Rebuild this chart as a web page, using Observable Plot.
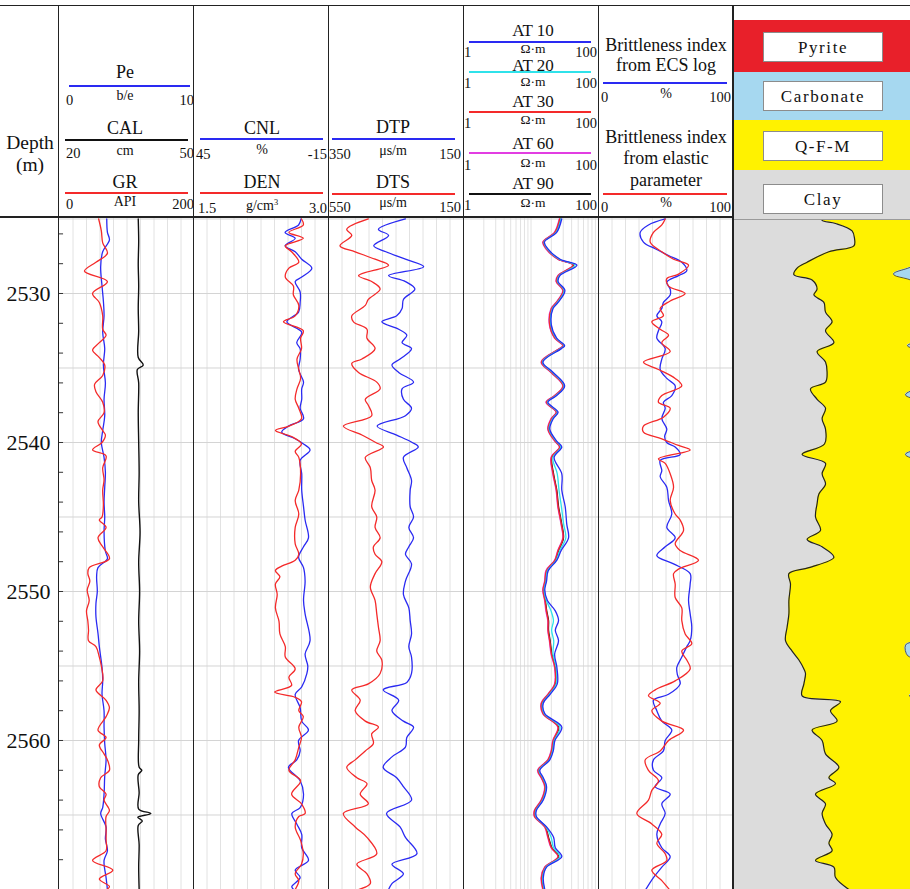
<!DOCTYPE html>
<html><head><meta charset="utf-8">
<script src="https://cdn.jsdelivr.net/npm/d3@7"></script>
<script src="https://cdn.jsdelivr.net/npm/@observablehq/plot@0.6"></script>
<style>
html,body{margin:0;padding:0;background:#fff;overflow:hidden;}
#root{position:relative;width:910px;height:889px;overflow:hidden;font-family:"Liberation Serif","Times New Roman",serif;color:#111;background:#fff;}
.t{position:absolute;white-space:nowrap;line-height:1;}
.r{position:absolute;}
sup{font-size:0.6em;vertical-align:0.55em;line-height:0;}
</style></head><body><div id="root"></div><script>
// ---------------- DATA (depth m, value) ----------------
const DEPTH_LABELS = [2530, 2540, 2550, 2560];
const GR_LOG = [[2525.0,58],[2525.8,62],[2526.6,64],[2527.3,71],[2527.9,54],[2528.5,37],[2529.2,71],[2530.0,49],[2530.6,59],[2531.5,64],[2532.4,64],[2532.8,69],[2533.3,59],[2533.8,49],[2534.3,59],[2534.8,67],[2535.5,64],[2536.1,52],[2536.6,54],[2537.3,64],[2538.0,66],[2538.6,57],[2539.2,64],[2539.5,68],[2540.0,63],[2540.5,49],[2540.9,69],[2541.7,64],[2542.5,66],[2543.2,64],[2544.2,65],[2545.0,63],[2545.2,59],[2545.7,69],[2546.4,57],[2547.0,64],[2547.8,74],[2548.4,44],[2548.8,42],[2549.3,45],[2549.9,41],[2550.6,44],[2551.3,40],[2552.0,42],[2552.6,43],[2553.3,43],[2553.7,54],[2554.4,59],[2555.0,62],[2556.0,64],[2556.6,54],[2557.3,69],[2557.8,74],[2558.4,69],[2559.3,57],[2559.8,69],[2560.3,59],[2560.9,66],[2561.3,71],[2562.0,74],[2562.5,61],[2563.1,59],[2563.6,69],[2564.0,66],[2564.7,74],[2565.1,69],[2566.0,69],[2566.7,69],[2567.4,69],[2568.05,49],[2568.7,79],[2569.3,59],[2569.8,74],[2570.0,70]];
const PE_LOG = [[2525,3.5],[2525.9,3.55],[2526.4,3.7],[2527.2,3.2],[2528.2,3.05],[2529.5,3.15],[2530.5,3.25],[2531.5,3.3],[2532.6,3.2],[2533.7,3.35],[2534.8,3.25],[2536.0,3.4],[2537.1,3.3],[2538.2,3.35],[2539.2,3.2],[2540.0,3.1],[2541.0,3.3],[2542.0,3.4],[2543.0,3.35],[2544.0,3.3],[2545.0,3.35],[2546.0,3.3],[2547.3,3.4],[2547.8,3.55],[2548.4,2.85],[2549.0,2.75],[2550.0,2.8],[2550.8,2.7],[2551.7,2.7],[2552.8,2.85],[2553.7,2.95],[2555.1,3.15],[2556.0,3.2],[2556.9,3.15],[2558.0,3.3],[2559.1,3.3],[2560.2,3.35],[2561.3,3.45],[2562.4,3.35],[2563.6,3.3],[2564.5,3.2],[2564.9,3.05],[2565.8,3.45],[2566.6,3.4],[2567.4,3.55],[2568.05,3.3],[2569.2,3.45],[2570,3.55]];
const CAL_LOG = [[2525,37.5],[2526.5,37.6],[2528,37.5],[2529.5,37.6],[2531,37.5],[2532.5,37.6],[2534.3,37.5],[2534.8,38.6],[2535.1,37.3],[2536,37.6],[2538,37.5],[2540,37.6],[2542,37.7],[2544,37.6],[2546,37.9],[2548,37.6],[2550,37.8],[2552,37.6],[2554,37.8],[2556,37.6],[2558,37.7],[2560,37.6],[2561.8,37.7],[2562.0,38.3],[2562.3,37.5],[2563.5,37.7],[2564.6,37.6],[2564.9,40.3],[2565.15,37.4],[2565.4,38.4],[2565.7,37.5],[2567,37.7],[2568.5,37.6],[2570,37.7]];
const CNL_LOG = [[2525.0,-2.8],[2525.4,-1.7],[2525.9,4.3],[2526.3,-0.2],[2526.8,4.3],[2527.2,-0.2],[2527.7,-3.1],[2528.3,-7.6],[2528.9,-3.1],[2529.2,-0.2],[2529.9,-2.4],[2530.6,-2.4],[2531.25,-1.7],[2531.9,3.5],[2532.6,-3.1],[2533.3,-0.9],[2533.7,-2.4],[2534.4,-2.4],[2535.1,-1.7],[2535.95,-3.9],[2536.4,-3.1],[2537.1,-3.1],[2537.7,-2.4],[2538.4,-3.9],[2538.9,2.8],[2539.3,5.8],[2539.75,-0.2],[2540.1,-3.9],[2540.5,-6.8],[2541.2,-2.4],[2542.1,-3.1],[2543.2,-3.1],[2544.3,-3.9],[2545.2,-4.6],[2546.4,-6.1],[2547.0,-3.9],[2547.7,-1.7],[2548.4,-3.9],[2549.3,-4.6],[2550.6,-3.9],[2551.5,-4.6],[2553.3,-6.8],[2554.2,-4.6],[2555.0,-5.8],[2555.5,-5.4],[2556.4,-3.1],[2556.9,-0.2],[2557.8,-2.4],[2558.7,-3.1],[2559.3,-6.1],[2560.0,-1.7],[2560.7,-2.4],[2561.3,-0.9],[2561.8,2.8],[2562.7,-2.4],[2563.6,-3.9],[2564.5,-2.4],[2564.9,1.3],[2565.6,-0.9],[2566.3,-3.1],[2567.2,-3.1],[2568.05,-6.1],[2568.7,-0.2],[2569.2,-2.4],[2569.8,1.3],[2570,0.5]];
const DEN_LOG = [[2525.0,2.70],[2525.4,2.72],[2525.9,2.56],[2526.3,2.72],[2526.8,2.52],[2527.2,2.59],[2527.9,2.67],[2528.3,2.56],[2528.9,2.52],[2529.5,2.61],[2530.1,2.61],[2530.8,2.67],[2531.5,2.63],[2531.9,2.50],[2532.5,2.72],[2533.0,2.69],[2533.7,2.70],[2534.4,2.65],[2535.1,2.67],[2535.7,2.69],[2536.4,2.65],[2537.1,2.63],[2537.7,2.67],[2538.4,2.70],[2538.9,2.56],[2539.2,2.41],[2539.6,2.59],[2540.1,2.70],[2540.6,2.63],[2541.0,2.67],[2542.1,2.69],[2543.2,2.67],[2543.9,2.63],[2544.8,2.67],[2545.7,2.63],[2546.8,2.63],[2547.5,2.67],[2547.9,2.63],[2548.3,2.48],[2548.6,2.41],[2549.0,2.46],[2549.5,2.41],[2550.2,2.43],[2551.1,2.41],[2552.0,2.45],[2552.85,2.46],[2553.7,2.52],[2554.4,2.52],[2555.2,2.63],[2555.75,2.56],[2556.3,2.59],[2556.75,2.40],[2557.1,2.63],[2557.4,2.70],[2558.0,2.67],[2558.4,2.72],[2559.1,2.67],[2559.8,2.70],[2560.45,2.67],[2561.3,2.63],[2562.0,2.56],[2562.7,2.69],[2563.6,2.59],[2564.25,2.70],[2564.9,2.74],[2565.1,2.67],[2565.8,2.63],[2566.7,2.69],[2567.6,2.72],[2568.3,2.70],[2568.95,2.63],[2569.4,2.67],[2570,2.63]];
const DTP_LOG = [[2525.0,236],[2525.7,276],[2526.1,261],[2526.8,283],[2527.2,265],[2527.7,236],[2528.2,209],[2528.8,261],[2529.2,236],[2529.7,222],[2530.4,239],[2531.0,241],[2531.5,249],[2531.9,271],[2532.4,246],[2532.8,234],[2533.3,241],[2533.7,227],[2534.4,244],[2534.8,256],[2535.3,246],[2535.95,224],[2536.4,241],[2537.1,239],[2537.7,227],[2538.2,236],[2538.9,278],[2539.5,249],[2540.0,226],[2540.3,217],[2541.0,239],[2541.7,234],[2542.55,227],[2543.2,229],[2544.3,229],[2545.0,224],[2545.7,231],[2546.4,224],[2547.0,231],[2547.5,236],[2548.15,227],[2549.3,236],[2550.2,239],[2551.1,231],[2551.95,229],[2552.85,227],[2553.7,231],[2554.4,227],[2555.5,227],[2556.1,234],[2556.6,269],[2557.3,246],[2558.0,256],[2558.7,239],[2559.1,224],[2559.8,234],[2560.45,236],[2561.1,256],[2561.8,269],[2562.5,249],[2563.1,239],[2564.0,227],[2564.9,264],[2565.8,244],[2566.5,236],[2567.6,219],[2568.3,256],[2568.95,239],[2569.6,256],[2570.0,261]];
const DTS_LOG = [[2525.0,432],[2525.7,496],[2526.1,481],[2526.8,516],[2527.2,471],[2527.7,412],[2528.1,372],[2528.8,461],[2529.2,422],[2529.7,397],[2530.4,432],[2530.8,441],[2531.5,481],[2531.9,476],[2532.4,436],[2533.0,436],[2533.7,412],[2534.4,451],[2534.7,481],[2535.3,461],[2535.95,407],[2536.4,397],[2537.1,441],[2537.5,432],[2538.2,422],[2538.9,506],[2539.5,451],[2540.0,410],[2540.3,387],[2541.0,441],[2541.7,426],[2542.55,422],[2543.2,412],[2544.3,422],[2545.0,407],[2545.7,412],[2546.4,397],[2547.0,417],[2547.5,412],[2548.0,392],[2548.8,412],[2549.7,426],[2550.6,412],[2551.5,407],[2552.4,402],[2553.3,397],[2554.0,407],[2554.6,392],[2555.5,397],[2556.2,432],[2556.6,481],[2557.3,456],[2558.0,471],[2558.7,441],[2559.1,402],[2559.55,422],[2560.2,417],[2560.7,441],[2561.3,471],[2561.8,496],[2562.5,466],[2562.9,436],[2563.6,456],[2564.25,432],[2564.9,506],[2565.8,471],[2566.5,436],[2567.6,407],[2568.3,466],[2568.95,436],[2569.6,426],[2570.0,461]];
const RES_DEPTH = [2525.0,2525.9,2526.55,2527.0,2527.7,2528.1,2528.8,2529.2,2529.8,2530.6,2531.0,2532.1,2533.0,2533.5,2533.7,2534.6,2535.3,2536.2,2536.85,2537.3,2537.96,2538.4,2539.1,2539.9,2540.3,2541.0,2542.1,2543.2,2544.3,2545.5,2546.4,2547.25,2547.9,2548.6,2549.3,2549.9,2550.6,2551.3,2551.95,2552.6,2553.3,2554.2,2555.1,2556.2,2556.9,2557.5,2558.2,2559.1,2560.0,2560.7,2561.3,2562.0,2562.5,2563.1,2564.0,2564.7,2565.1,2565.8,2566.5,2567.2,2567.8,2568.5,2569.2,2570.0];
const AT10 = [28.5,24,15.8,17.8,27,47.9,26.8,25.2,31.8,25.2,21.2,20,24,31.5,28.2,15,21.3,31.5,24,17.8,25.2,21.4,19,24,28.6,22,28.6,28.6,32.1,33.9,36.0,28,24.2,18,17,16,17.5,22.9,25.6,22.9,25.6,22.4,24.2,24.5,19.2,15.2,16,28.6,22.6,21.4,19,13.5,15.2,17,15.2,12,12,17,21.6,22.9,28.6,17,15.2,16];
const AT20 = [27.8,23.5,15.6,17.4,26.3,45,26.2,24.7,31,24.7,20.8,19.7,23.5,31,27.6,14.8,20.9,31,23.5,17.5,24.7,20.9,18.6,23.5,27.8,21.1,24.5,26,28.2,30.5,32.8,26.8,23.6,17.6,16.7,15.7,16.9,19.8,21.5,20.2,21.7,21.2,23.6,23.7,18.7,14.9,15.7,26.9,22.1,20.9,18.7,13.2,14.9,16.7,14.9,11.8,11.8,16.7,19.9,21.6,27,16.7,14.9,15.7];
const AT30 = [26.6,22.5,15.1,16.9,25.2,42,25.3,23.8,29.9,23.8,20.1,18.9,22.6,29.9,26.6,14.3,20.1,29.9,22.6,16.9,23.8,20.1,17.9,22.6,26.6,20.1,21.3,23.8,25.2,28.2,29.9,25.2,22.6,16.9,16.1,15.1,16.1,16.9,17.9,17.9,18.9,20.1,22.6,22.6,17.9,14.3,15.1,25.2,21.3,20.1,17.9,12.7,14.3,16.1,14.3,11.3,11.3,16.1,17.9,20.1,25.2,16.1,14.3,15.1];
const AT60 = [26.2,22.2,14.9,16.6,24.9,41.5,24.9,23.5,29.5,23.5,19.8,18.7,22.3,29.5,26.3,14.1,19.8,29.5,22.3,16.6,23.5,19.8,17.7,22.3,26.3,19.8,21,23.5,24.9,27.9,29.5,24.9,22.3,16.6,15.9,14.9,15.9,16.6,17.7,17.7,18.7,19.8,22.3,22.3,17.7,14.1,14.9,24.9,21,19.8,17.7,12.5,14.1,15.9,14.1,11.2,11.2,15.9,17.7,19.8,24.9,15.9,14.1,14.9];
const AT90 = [27,22.9,15.3,17.1,25.6,42.7,25.6,24.1,30.3,24.1,20.4,19.2,22.9,30.3,27.0,14.5,20.4,30.3,22.9,17.1,24.1,20.4,18.2,22.9,27.0,20.4,21.6,24.1,25.6,28.6,30.3,25.6,22.9,17.1,16.3,15.3,16.3,17.1,18.2,18.2,19.2,20.4,22.9,22.9,18.2,14.5,15.3,25.6,21.6,20.4,18.2,12.9,14.5,16.3,14.5,11.5,11.5,16.3,18.2,20.4,25.6,16.3,14.5,15.3];
const BI_ECS = [[2525.0,49.4],[2525.4,37.0],[2525.9,30.9],[2526.55,33.3],[2527.0,42.0],[2527.45,51.9],[2527.9,61.7],[2528.46,65.4],[2528.8,59.3],[2529.24,50.6],[2529.7,53.1],[2530.1,53.1],[2530.6,48.1],[2531.0,46.9],[2531.5,43.2],[2531.9,46.9],[2532.5,44.4],[2533.0,43.2],[2533.7,49.4],[2534.4,46.9],[2535.1,45.7],[2535.7,50.6],[2536.2,56.8],[2536.85,54.3],[2537.3,48.1],[2537.7,49.4],[2538.4,46.9],[2539.1,50.6],[2539.6,49.0],[2540.0,50.5],[2540.3,56.8],[2540.8,60.5],[2541.2,45.7],[2541.9,46.9],[2542.3,45.7],[2543.0,50.6],[2543.9,51.9],[2544.8,54.3],[2545.7,50.6],[2546.4,56.8],[2547.0,49.4],[2547.6,43.2],[2548.15,55.6],[2548.8,67.9],[2549.5,67.9],[2550.6,66.7],[2551.5,67.9],[2552.4,69.1],[2553.3,67.9],[2553.7,65.4],[2554.4,61.7],[2555.1,58.0],[2555.6,58.5],[2556.2,60.5],[2556.9,51.9],[2557.3,40.7],[2558.0,43.2],[2558.7,46.9],[2559.3,54.3],[2560.0,49.4],[2560.7,48.1],[2561.3,40.7],[2562.0,40.7],[2562.5,46.9],[2563.1,42.0],[2563.6,53.1],[2564.25,46.9],[2564.9,49.4],[2565.6,45.7],[2566.3,43.2],[2567.2,46.9],[2567.8,53.1],[2568.5,46.9],[2569.2,40.7],[2570.0,35.0]];
const BI_ELASTIC = [[2525.0,49.4],[2525.4,46.9],[2525.9,40.7],[2526.55,38.3],[2527.2,46.9],[2527.7,55.6],[2528.1,66.7],[2528.7,59.3],[2529.0,50.6],[2529.5,51.9],[2530.0,64.2],[2530.5,53.1],[2531.0,45.7],[2531.5,48.1],[2531.9,39.5],[2532.4,45.7],[2532.8,51.9],[2533.3,46.9],[2533.9,53.1],[2534.6,33.3],[2535.1,44.4],[2535.7,56.8],[2536.2,61.7],[2536.85,46.9],[2537.3,44.4],[2537.7,53.1],[2538.3,48.1],[2538.9,33.3],[2539.3,33.3],[2539.75,46.9],[2540.2,59.3],[2540.5,67.9],[2541.1,44.4],[2541.4,49.4],[2542.1,53.1],[2543.0,55.6],[2543.9,53.1],[2544.8,56.8],[2545.2,60.5],[2545.9,63.0],[2546.8,56.8],[2547.25,60.5],[2547.9,74.1],[2548.5,59.3],[2548.8,55.6],[2549.5,56.8],[2550.4,56.8],[2551.1,61.7],[2551.95,61.7],[2552.85,64.2],[2553.5,69.1],[2554.0,61.7],[2554.6,65.4],[2555.2,67.9],[2556.0,56.8],[2556.6,42.0],[2557.0,37.0],[2557.5,45.7],[2558.0,39.5],[2558.7,46.9],[2559.3,63.0],[2560.0,51.9],[2560.7,45.7],[2561.3,34.6],[2562.0,37.0],[2562.7,44.4],[2563.35,39.5],[2564.0,37.0],[2564.9,28.4],[2565.6,39.5],[2566.3,46.9],[2566.9,43.2],[2567.6,49.4],[2568.05,50.6],[2568.7,39.5],[2569.4,46.9],[2570.0,52.5]];
// lithology: clay fraction (%), and cumulative clay+Q-F-M top (%)
const CLAY = [[2524.9,44.3],[2525.1,44.3],[2525.3,51.0],[2525.8,59.3],[2526.3,60.5],[2526.8,60.2],[2527.2,47.7],[2527.9,36.8],[2528.3,31.8],[2528.75,30.2],[2529.1,39.3],[2529.7,41.8],[2530.1,40.2],[2530.6,45.2],[2531.25,46.0],[2531.9,49.3],[2532.5,46.0],[2533.3,50.2],[2533.9,41.8],[2534.6,46.0],[2535.3,46.8],[2535.95,46.0],[2536.4,38.5],[2537.1,41.8],[2537.7,46.0],[2538.4,44.3],[2539.1,46.0],[2540.1,45.5],[2540.8,34.3],[2541.4,46.0],[2542.1,44.3],[2542.8,46.0],[2543.45,42.7],[2544.1,41.8],[2545.0,41.0],[2545.9,43.5],[2546.5,36.8],[2547.0,44.3],[2547.7,50.2],[2548.4,37.7],[2548.8,27.7],[2549.5,28.5],[2550.6,27.7],[2551.5,27.7],[2552.4,26.8],[2553.3,26.0],[2554.0,29.3],[2554.6,32.7],[2555.2,35.2],[2555.5,36.0],[2556.2,35.2],[2557.0,34.3],[2557.4,53.5],[2558.0,48.5],[2558.7,51.8],[2559.3,39.3],[2560.0,44.3],[2560.9,46.0],[2561.8,52.7],[2562.5,47.7],[2562.9,51.0],[2563.6,41.0],[2564.25,46.0],[2564.9,44.3],[2565.6,46.0],[2566.3,49.3],[2566.9,47.7],[2567.4,49.3],[2568.05,41.0],[2568.5,50.2],[2569.2,51.0],[2570.0,57.7]];
const QFM_TOP = [[2524.9,92],[2527.9,92],[2528.7,80],[2529.4,92],[2533.1,92],[2533.5,87],[2533.9,92],[2536.2,92],[2536.8,86],[2537.3,92],[2540.3,92],[2540.8,86],[2541.4,92],[2553.1,92],[2553.6,86],[2554.3,87],[2554.6,92],[2556.6,92],[2557.0,88],[2557.4,92],[2570,92]];

// ---------------- LAYOUT ----------------
const root = document.getElementById("root");
const Y_DOMAIN = [2524.9, 2570];
const TOP = 217, H = 672;
const RED = "#f42a2a", BLUE = "#2a2af2", CYAN = "#2fe2ea", MAG = "#e23ee2", BLACK = "#111";
const gridDepths = d3.range(2525, 2571, 5);
const minorDepths = d3.range(2526, 2570, 2);

function addPlot(left, width, x, marks) {
  const svg = Plot.plot({
    width, height: H, marginTop: 0, marginBottom: 0, marginLeft: 0, marginRight: 0,
    x: x ? {...x, axis: null} : undefined,
    y: {domain: Y_DOMAIN, reverse: true, axis: null},
    marks
  });
  svg.style.position = "absolute";
  svg.style.left = left + "px";
  svg.style.top = TOP + "px";
  svg.style.background = "transparent";
  svg.style.overflow = "hidden";
  root.appendChild(svg);
}
const rows = (arr) => arr.map(([d, v]) => ({d, v}));
const resRows = (vals) => RES_DEPTH.map((d, i) => ({d, v: vals[i]}));
const curve = (data, stroke, w = 1.3) => Plot.line(data, {x: "v", y: "d", stroke, strokeWidth: w, curve: "catmull-rom"});
function baseGrid(vals) {
  return [
    Plot.ruleX(vals, {stroke: "#e2e2e2", strokeWidth: 1}),
    Plot.ruleY(gridDepths, {stroke: "#d4d4d4", strokeWidth: 1})
  ];
}
const W = 135;
// depth column
addPlot(0, 58, null, [
  Plot.text(DEPTH_LABELS, {y: d => d, text: d => String(d), frameAnchor: "middle", dx: -1, fontSize: 22, fontFamily: "Liberation Serif", fill: "#111"})
]);
// Track 1: GR / CAL / Pe
const grDom = [0, 200];
addPlot(58.5, W, {domain: grDom}, [
  ...baseGrid(d3.range(20, 200, 20)),
  Plot.ruleY(minorDepths, {y: d => d, x1: 0, x2: 6, stroke: "#333", strokeWidth: 1})
]);
addPlot(58.5, W, {domain: [20, 50]}, [curve(rows(CAL_LOG), BLACK, 1.4)]);
addPlot(58.5, W, {domain: [0, 10]}, [curve(rows(PE_LOG), BLUE)]);
addPlot(58.5, W, {domain: grDom}, [curve(rows(GR_LOG), RED)]);
// Track 2: CNL / DEN
addPlot(193.3, W, {domain: [45, -15]}, [...baseGrid(d3.range(39, -15, -6)), curve(rows(CNL_LOG), BLUE)]);
addPlot(193.3, W, {domain: [1.5, 3.0]}, [curve(rows(DEN_LOG), RED)]);
// Track 3: DTP / DTS
addPlot(328.3, W, {domain: [350, 150]}, [...baseGrid(d3.range(330, 150, -20)), curve(rows(DTP_LOG), BLUE)]);
addPlot(328.3, W, {domain: [550, 150]}, [curve(rows(DTS_LOG), RED)]);
// Track 4: resistivity (log)
const resScale = {type: "log", domain: [1, 100]};
addPlot(463.3, W, resScale, [
  ...baseGrid([...d3.range(2, 10), ...d3.range(10, 100, 10)]),
  curve(resRows(AT90), BLACK, 1.3),
  curve(resRows(AT60), MAG, 1.3),
  curve(resRows(AT30), RED, 1.3),
  curve(resRows(AT20), CYAN, 1.3),
  curve(resRows(AT10), BLUE, 1.3)
]);
// Track 5: brittleness
addPlot(598.3, W, {domain: [0, 100]}, [
  ...baseGrid(d3.range(10, 100, 10)),
  curve(rows(BI_ECS), BLUE),
  curve(rows(BI_ELASTIC), RED)
]);
// Track 6: lithology
addPlot(733, 200, {domain: [0, 100]}, [
  Plot.areaX(rows(QFM_TOP), {y: "d", x1: 0, x2: "v", fill: "#fff200", curve: "catmull-rom"}),
  Plot.areaX(rows(QFM_TOP), {y: "d", x1: "v", x2: 100, fill: "#a6d8f0", curve: "catmull-rom"}),
  Plot.line(rows(QFM_TOP), {x: "v", y: "d", stroke: "#333", strokeWidth: 0.8, curve: "catmull-rom"}),
  Plot.areaX(rows(CLAY), {y: "d", x1: 0, x2: "v", fill: "#dcdcdc", curve: "catmull-rom"}),
  Plot.line(rows(CLAY), {x: "v", y: "d", stroke: "#222", strokeWidth: 1.2, curve: "catmull-rom"})
]);

// ---------------- HEADER ----------------
function T(x, y, html, size, anchor = "middle", extra = {}) {
  const el = document.createElement("div");
  el.className = "t";
  el.innerHTML = html;
  el.style.left = x + "px"; el.style.top = y + "px"; el.style.fontSize = size + "px";
  const tx = anchor === "middle" ? "-50%" : anchor === "end" ? "-100%" : "0";
  el.style.transform = `translate(${tx},-50%)`;
  Object.assign(el.style, extra);
  root.appendChild(el);
}
function R(x, y, w, h, bg, extra = {}) {
  const el = document.createElement("div");
  el.className = "r";
  Object.assign(el.style, {left: x + "px", top: y + "px", width: w + "px", height: h + "px", background: bg}, extra);
  root.appendChild(el);
}
function curveHead(cx, x1, x2, nameY, lineY, numY, unitY, name, unit, lo, hi, color, nl, nr, nameSize = 18, unitSize = 14) {
  if (name) T(cx, nameY, name, nameSize);
  R(x1, lineY - 0.8, x2 - x1, 1.7, color);
  T(nl, numY, lo, 14.5, "start");
  T(cx, unitY, unit, unitSize);
  T(nr, numY, hi, 14.5, "end");
}
T(30, 143, "Depth", 19.5); T(30, 165, "(m)", 19.5);
curveHead(125, 69, 190, 72, 86, 100, 96, "Pe", "b/e", "0", "10", BLUE, 66, 194);
curveHead(125, 65, 188, 128, 140, 153, 151, "CAL", "cm", "20", "50", BLACK, 66, 194);
curveHead(125, 65, 188, 182, 193, 204, 202, "GR", "API", "0", "200", RED, 66, 194);
curveHead(262, 200, 323, 128, 139, 154, 150, "CNL", "%", "45", "-15", BLUE, 196, 327);
curveHead(262, 200, 323, 182, 193, 208, 206, "DEN", "g/cm<sup>3</sup>", "1.5", "3.0", RED, 198, 327);
curveHead(393, 332, 455, 127, 139, 154, 151, "DTP", "μs/m", "350", "150", BLUE, 329, 461);
curveHead(393, 332, 455, 182, 194, 207, 203, "DTS", "μs/m", "550", "150", RED, 329, 461);
const atHeads = [["AT 10", BLUE, 30, 42, 52, 49], ["AT 20", CYAN, 65, 72, 83, 81.5], ["AT 30", RED, 101, 112, 123, 120], ["AT 60", MAG, 143, 153, 165, 163], ["AT 90", BLACK, 183, 194, 205, 203]];
for (const [n, c, ny, ly, numy, uy] of atHeads) curveHead(533, 469, 591, ny, ly, numy, uy, n, "Ω·m", "1", "100", c, 464, 597, 17, 13.5);
T(666, 45, "Brittleness index", 18); T(666, 65, "from ECS log", 18);
curveHead(666, 603, 727, 0, 83, 97, 94, "", "%", "0", "100", BLUE, 601, 731);
T(666, 137, "Brittleness index", 18); T(666, 158, "from elastic", 18); T(666, 180, "parameter", 18);
curveHead(666, 603, 727, 0, 194, 207, 203, "", "%", "0", "100", RED, 601, 731);
// lithology legend
const LITHO = [["Pyrite", "#e8202a", 20, 72, 32], ["Carbonate", "#a6d8f0", 72, 120, 81], ["Q-F-M", "#fff200", 120, 170, 131], ["Clay", "#dcdcdc", 170, 219, 184]];
for (const [name, col, y1, y2, by] of LITHO) {
  R(733, y1, 177, y2 - y1, col);
  R(763, by, 118, 28, "#fff", {border: "1px solid #8c8c8c"});
  T(823, by + 15, name, 17, "middle", {letterSpacing: "1.6px"});
}
R(733, 218.5, 177, 1, "#9a9a9a");
// frame lines
R(0, 4.5, 910, 1.8, "#222");
R(0, 216, 733, 1.8, "#222");
for (const x of [57.8, 192.6, 327.6, 462.6, 597.6, 732.3]) R(x, 4.5, 1.6, 885, "#222");
</script></body></html>
